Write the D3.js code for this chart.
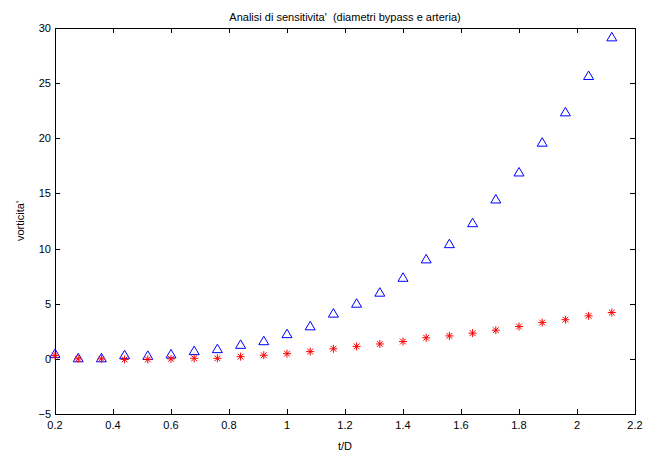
<!doctype html>
<html lang="en">

<head>
	<meta charset="utf-8" />
	<title>Analisi di sensitivita'</title>
	<style>
		body {
			margin: 0;
			background: #fff;
		}

		svg {
			display: block;
			font-family: "Liberation Sans", Arial, sans-serif;
		}

		.tick-label {
			font-size: 11px;
			fill: #000;
		}
	</style>
</head>

<body>

	<svg width="647" height="455"></svg>

	<script src="https://cdn.jsdelivr.net/npm/d3@7/dist/d3.min.js"></script>

	<script>
		// t/D values
		var tD = [0.2, 0.28, 0.36, 0.44, 0.52, 0.6, 0.68, 0.76, 0.84, 0.92, 1.0, 1.08, 1.16,
			1.24, 1.32, 1.4, 1.48, 1.56, 1.64, 1.72, 1.8, 1.88, 1.96, 2.04, 2.12];

		// blue triangles
		var vortA = [0.45, 0.05, 0.05, 0.33, 0.27, 0.4, 0.7, 0.88, 1.27, 1.6, 2.24, 2.95, 4.1,
			5.0, 6.0, 7.35, 9.02, 10.4, 12.3, 14.45, 16.9, 19.6, 22.35, 25.65, 29.15];

		// red stars
		var vortB = [0.3, 0.0, 0.0, -0.05, -0.05, 0.0, 0.05, 0.05, 0.2, 0.33, 0.47, 0.66, 0.91,
			1.13, 1.35, 1.57, 1.91, 2.08, 2.33, 2.6, 2.93, 3.29, 3.55, 3.9, 4.2];

		var xTicks = [0.2, 0.4, 0.6, 0.8, 1, 1.2, 1.4, 1.6, 1.8, 2, 2.2];
		var yTicks = [-5, 0, 5, 10, 15, 20, 25, 30];

		(function () {
			var svg = d3.select("svg");

			// plot box (window.top is reserved, so use pTop etc.)
			var pLeft = 55, pRight = 635, pTop = 28, pBottom = 414;
			var tickLen = 5;

			var x = d3.scaleLinear().domain([0.2, 2.2]).range([pLeft, pRight]);
			var y = d3.scaleLinear().domain([-5, 30]).range([pBottom, pTop]);

			// box
			svg.append("rect")
				.attr("x", pLeft + 0.5)
				.attr("y", pTop + 0.5)
				.attr("width", pRight - pLeft)
				.attr("height", pBottom - pTop)
				.attr("fill", "none")
				.attr("stroke", "#000")
				.attr("stroke-width", 1);

			// ticks, inward on all four sides
			var tk = svg.append("g").attr("stroke", "#000").attr("stroke-width", 1);
			xTicks.forEach(function (v) {
				var px = Math.round(x(v)) + 0.5;
				tk.append("line").attr("x1", px).attr("x2", px).attr("y1", pBottom).attr("y2", pBottom - tickLen);
				tk.append("line").attr("x1", px).attr("x2", px).attr("y1", pTop).attr("y2", pTop + tickLen);
			});
			yTicks.forEach(function (v) {
				var py = Math.round(y(v)) + 0.5;
				tk.append("line").attr("x1", pLeft).attr("x2", pLeft + tickLen).attr("y1", py).attr("y2", py);
				tk.append("line").attr("x1", pRight).attr("x2", pRight - tickLen).attr("y1", py).attr("y2", py);
			});

			// tick labels
			svg.append("g").selectAll("text")
				.data(xTicks)
				.enter().append("text")
				.attr("class", "tick-label")
				.attr("x", function (d) { return x(d); })
				.attr("y", 429)
				.attr("text-anchor", "middle")
				.text(function (d) { return d3.format("")(d); });

			svg.append("g").selectAll("text")
				.data(yTicks)
				.enter().append("text")
				.attr("class", "tick-label")
				.attr("x", 51)
				.attr("y", function (d) { return y(d) + 4; })
				.attr("text-anchor", "end")
				.text(function (d) { return d < 0 ? "\u2212" + Math.abs(d) : d; });

			// title and axis labels
			svg.append("text")
				.attr("x", (pLeft + pRight) / 2)
				.attr("y", 21)
				.attr("text-anchor", "middle")
				.style("font-size", "11px")
				.style("white-space", "pre")
				.text("Analisi di sensitivita'  (diametri bypass e arteria)");

			svg.append("text")
				.attr("x", (pLeft + pRight) / 2)
				.attr("y", 450)
				.attr("text-anchor", "middle")
				.style("font-size", "11px")
				.text("t/D");

			svg.append("text")
				.attr("transform", "translate(24," + ((pTop + pBottom) / 2) + ") rotate(-90)")
				.attr("text-anchor", "middle")
				.style("font-size", "11px")
				.text("vorticita'");

			// markers
			var pts = tD.map(function (d, i) { return { t: d, a: vortA[i], b: vortB[i] }; });

			// triangles
			svg.append("g").selectAll("path")
				.data(pts)
				.enter().append("path")
				.attr("d", function (d) {
					var cx = x(d.t), cy = y(d.a), r = 5;
					return "M" + cx + "," + (cy - r) + "L" + (cx + r) + "," + (cy + r * 0.7) +
						"L" + (cx - r) + "," + (cy + r * 0.7) + "Z";
				})
				.attr("fill", "none")
				.attr("stroke", "#0000ff")
				.attr("stroke-width", 1);

			// stars
			var starR = 4;
			var d45 = starR * 0.72;
			svg.append("g").selectAll("path")
				.data(pts)
				.enter().append("path")
				.attr("d", function (d) {
					var cx = x(d.t), cy = y(d.b);
					return "M" + (cx - starR) + "," + cy + "h" + (2 * starR) +
						"M" + cx + "," + (cy - starR) + "v" + (2 * starR) +
						"M" + (cx - d45) + "," + (cy - d45) + "l" + (2 * d45) + "," + (2 * d45) +
						"M" + (cx - d45) + "," + (cy + d45) + "l" + (2 * d45) + "," + (-2 * d45);
				})
				.attr("fill", "none")
				.attr("stroke", "#ff0000")
				.attr("stroke-width", 1);
		})();
	</script>

</body>

</html>
